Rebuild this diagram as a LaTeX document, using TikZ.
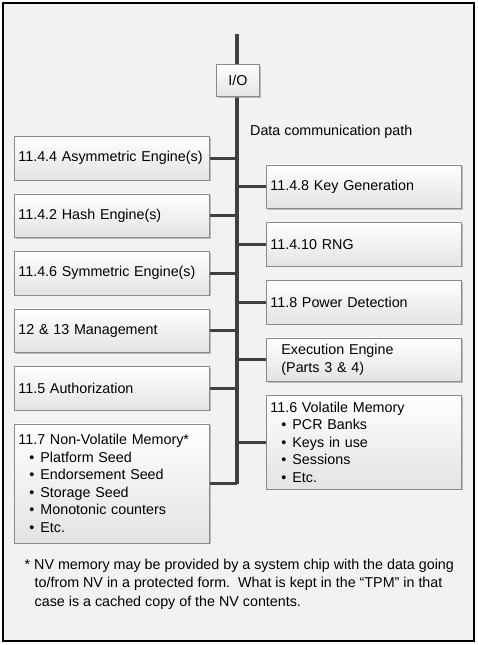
\documentclass[tikz,border=0pt]{standalone}
\usepackage{fontspec}
\setmainfont{Liberation Sans}
\usetikzlibrary{shadows}
\definecolor{busc}{HTML}{404040}
\definecolor{bg}{HTML}{F2F2F2}
\definecolor{boxline}{HTML}{8A8A8A}
\tikzset{
  blk/.style={draw=boxline, line width=0.9pt, top color=white, bottom color=black!11,
    drop shadow={shadow xshift=1.2pt, shadow yshift=-1.2pt, fill=black!40, opacity=0.6},
    anchor=north west, text width=187pt, inner xsep=4pt, inner ysep=0pt,
    align=left, minimum height=43.5pt, font=\fontsize{14.3}{17.5}\selectfont},
  bus/.style={draw=busc, line width=4pt},
  stub/.style={draw=busc, line width=3.2pt},
  txt/.style={font=\fontsize{14.3}{17.5}\selectfont, inner sep=0pt}
}
\newcommand{\bul}[1]{\hspace*{11pt}\makebox[11pt][l]{•}#1}
\begin{document}
\begin{tikzpicture}[x=1pt,y=-1pt]
\useasboundingbox (0,0) rectangle (478,645);
\draw[fill=bg, draw=black, line width=2pt] (3,3) rectangle (474,641);
\coordinate (bustop) at (237,34);
\coordinate (busbot) at (237,484.2);
\draw[bus] (bustop) -- (busbot);
\node[blk, text width=35pt, align=center, minimum height=32pt] (io) at (216,64) {I/O};
\node[txt, anchor=west] (dcp) at (250,132) {Data communication path};
% left boxes
\node[blk] (asym) at (14,136) {11.4.4 Asymmetric Engine(s)};
\node[blk] (hash) at (14,193.5) {11.4.2 Hash Engine(s)};
\node[blk] (sym) at (14,251) {11.4.6 Symmetric Engine(s)};
\node[blk] (mgmt) at (14,308.5) {12 \& 13 Management};
\node[blk] (auth) at (14,366) {11.5 Authorization};
\node[blk, minimum height=119pt] (nv) at (14,423.5) {11.7 Non-Volatile Memory*\\
\bul{Platform Seed}\\
\bul{Endorsement Seed}\\
\bul{Storage Seed}\\
\bul{Monotonic counters}\\
\bul{Etc.}};
% right boxes
\node[blk] (keyg) at (266,164.5) {11.4.8 Key Generation};
\node[blk] (rng) at (266,222.3) {11.4.10 RNG};
\node[blk] (pwr) at (266,280) {11.8 Power Detection};
\node[blk] (exec) at (266,337.5) {\hspace*{11pt}Execution Engine\\\hspace*{11pt}(Parts 3 \& 4)};
\node[blk, minimum height=93.5pt] (vol) at (266,395) {11.6 Volatile Memory\\
\bul{PCR Banks}\\
\bul{Keys in use}\\
\bul{Sessions}\\
\bul{Etc.}};
% stubs
\foreach \n in {asym,hash,sym,mgmt,auth} {
  \draw[stub] (\n.east) -- (\n.east -| bustop);
}
\draw[stub] (nv.east) -- (nv.east -| bustop);
\foreach \n in {keyg,rng,pwr,exec,vol} {
  \draw[stub] (\n.west) -- (\n.west -| bustop);
}
% footnote
\node[txt, anchor=north west, align=left, font=\fontsize{14.3}{18.5}\selectfont] (foot) at (24.5,558.5) {* NV memory may be provided by a system chip with the data going\\
\hspace*{10pt}to/from NV in a protected form.\ \ What is kept in the “TPM” in that\\
\hspace*{10pt}case is a cached copy of the NV contents.};
\end{tikzpicture}
\end{document}
